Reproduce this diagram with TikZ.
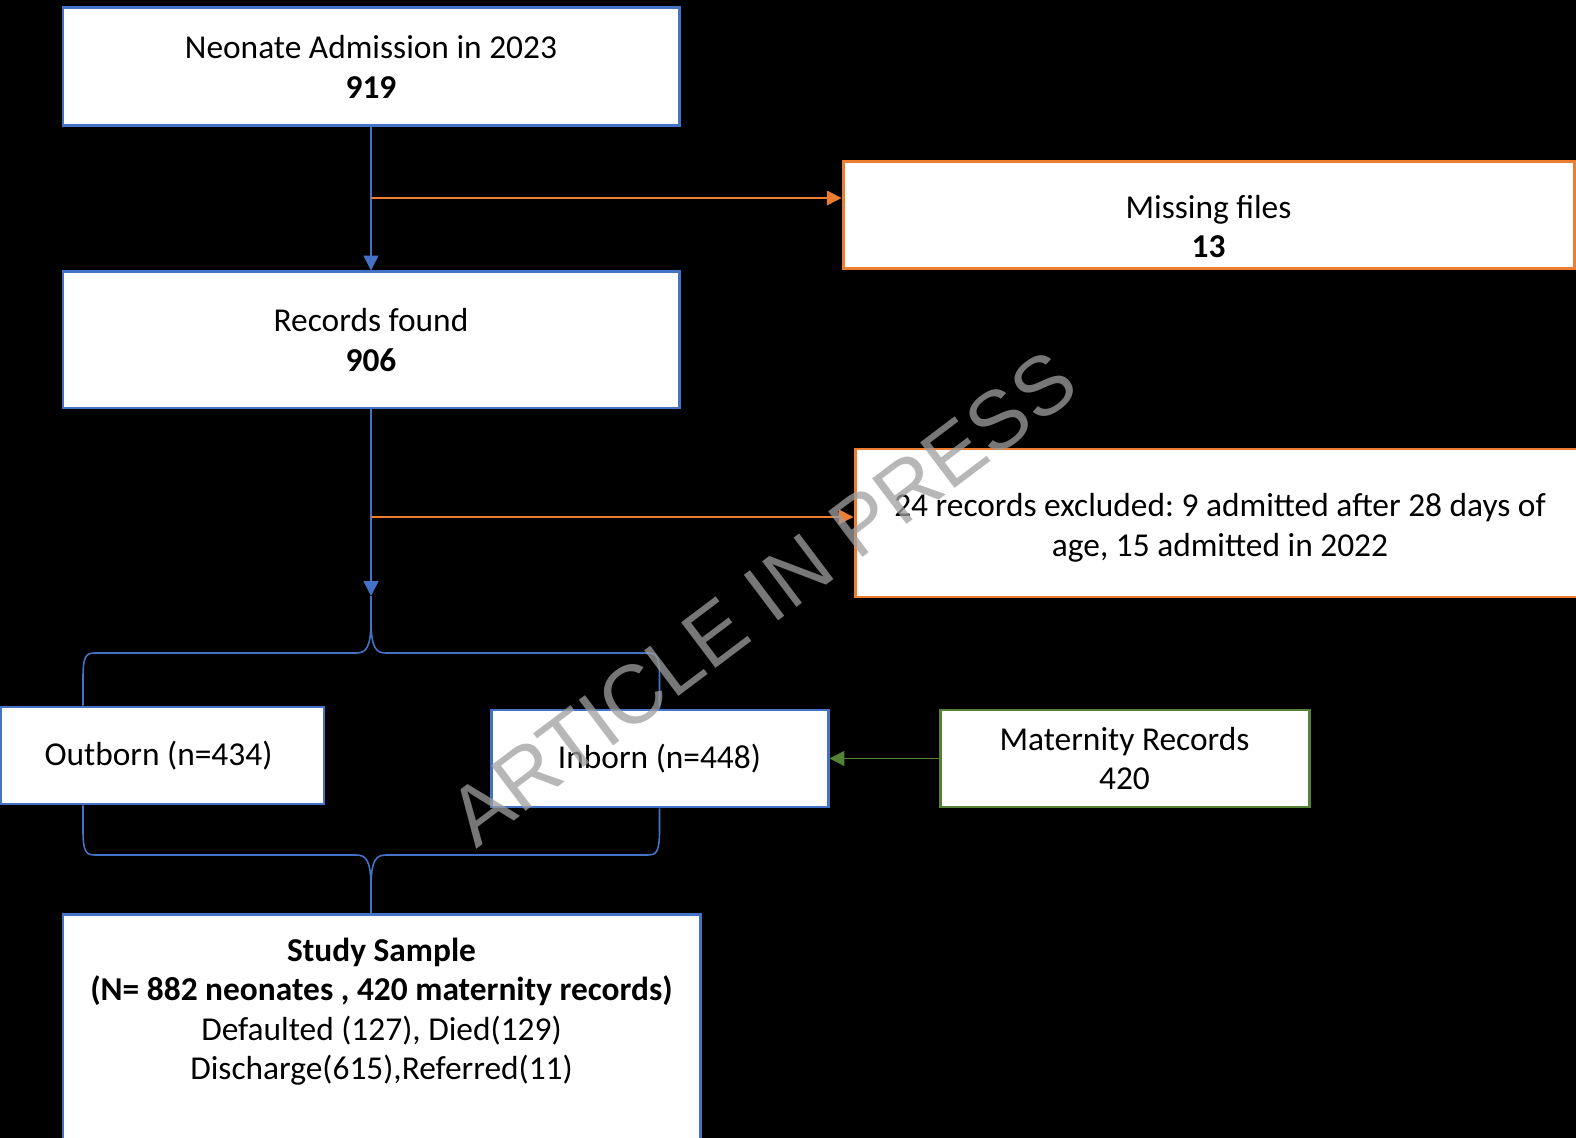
\documentclass[tikz,border=0pt]{standalone}
\usepackage{fontspec}
\setmainfont{Carlito}
\newfontfamily\markfont{Liberation Sans}
\usetikzlibrary{arrows.meta}
\frenchspacing

\definecolor{boxblue}{HTML}{4472C4}
\definecolor{boxorange}{HTML}{ED7D31}
\definecolor{boxgreen}{HTML}{548235}

\tikzset{
	box/.style={fill=white, draw, line width=0.85pt, align=center, inner sep=0pt, font=\fontsize{9.5}{11.2}\selectfont},
	bluebox/.style={box, draw=boxblue},
	orangebox/.style={box, draw=boxorange},
	greenbox/.style={box, draw=boxgreen},
	link/.style={line width=0.45pt},
	tip/.style={-{Triangle[length=4.2pt,width=4.2pt]}}
}

\begin{document}
\begin{tikzpicture}
		\fill[black] (0,0) rectangle (15.76,-11.38);
		\useasboundingbox (0,0) rectangle (15.76,-11.38);
		\clip (0,0) rectangle (15.76,-11.38);

		\node[bluebox, minimum width=6.16cm, minimum height=1.18cm] (adm) at (3.71,-0.67) {Neonate Admission in 2023\\\textbf{919}};
		\node[orangebox, minimum width=7.31cm, minimum height=1.07cm] (missing) at (12.085,-2.155) {\rule{0pt}{12.7pt}Missing files\\\textbf{13}};
		\node[bluebox, minimum width=6.16cm, minimum height=1.36cm] (found) at (3.71,-3.40) {Records found\\\textbf{906}};
		\node[orangebox, minimum width=7.30cm, minimum height=1.48cm] (excl) at (12.20,-5.23) {\rule{0pt}{9.3pt}24 records excluded: 9 admitted after 28 days of\\age, 15 admitted in 2022};

		\node[bluebox, minimum width=3.23cm, minimum height=0.97cm] (outborn) at (1.625,-7.555) {Outborn (n=434)\hspace{0.08cm}};
		\node[bluebox, minimum width=3.37cm, minimum height=0.97cm] (inborn) at (6.595,-7.585) {Inborn (n=448)};
		\node[greenbox, minimum width=3.69cm, minimum height=0.97cm] (mat) at (11.245,-7.585) {Maternity Records\\420};

		\node[bluebox, anchor=north, minimum width=6.37cm, minimum height=2.4cm] (sample) at (3.815,-9.13) {\textbf{Study Sample}\\\textbf{(N= 882 neonates , 420 maternity records)}\\Defaulted (127), Died(129)\\Discharge(615),Referred(11)\\\strut};

		\coordinate (j1) at (3.71,-1.98);
		\coordinate (j2) at (3.71,-5.17);
		\coordinate (split) at (3.71,-5.96);
		\coordinate (lstem) at (0.83,0);

		\draw[link, boxblue, tip] (adm.south) -- (found.north);
		\draw[link, boxorange, tip] (j1) -- (j1 -| missing.west);

		\draw[link, boxblue, tip] (found.south) -- (split);
		\draw[link, boxorange, tip] (j2) -- (j2 -| excl.west);

		\draw[link, boxblue] (split) -- (3.71,-6.20) .. controls (3.71,-6.48) and (3.66,-6.53) .. (3.56,-6.53) -- (0.95,-6.53) .. controls (0.86,-6.53) and (0.83,-6.56) .. (0.83,-6.78) -- (lstem |- outborn.north);
		\draw[link, boxblue] (3.71,-6.20) .. controls (3.71,-6.48) and (3.76,-6.53) .. (3.86,-6.53) -- (6.475,-6.53) .. controls (6.565,-6.53) and (6.595,-6.56) .. (6.595,-6.78) -- (inborn.north);

		\draw[link, boxblue] (lstem |- outborn.south) -- (0.83,-8.30) .. controls (0.83,-8.52) and (0.86,-8.55) .. (0.95,-8.55) -- (3.56,-8.55) .. controls (3.66,-8.55) and (3.71,-8.60) .. (3.71,-8.88) -- (found.south |- sample.north);
		\draw[link, boxblue] (inborn.south) -- (6.595,-8.30) .. controls (6.595,-8.52) and (6.565,-8.55) .. (6.475,-8.55) -- (3.86,-8.55) .. controls (3.76,-8.55) and (3.71,-8.60) .. (3.71,-8.88);

		\draw[link, boxgreen, tip] (mat.west) -- (inborn.east);

		\node[rotate=37, text=gray!75, opacity=0.75, font=\markfont\fontsize{23.6}{27}\selectfont] (mark) at (7.62,-5.98) {ARTICLE IN PRESS};
	\end{tikzpicture}
\end{document}
